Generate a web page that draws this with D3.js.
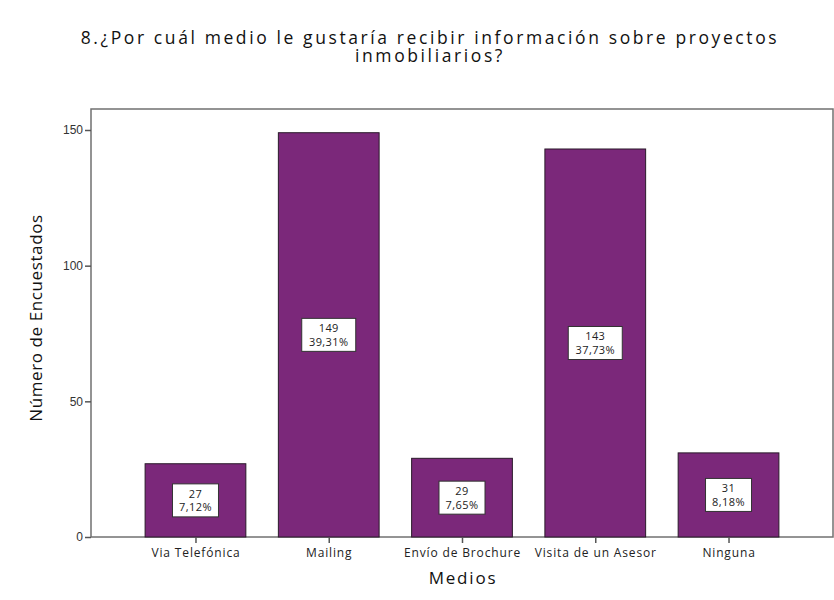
<!DOCTYPE html>
<html>
<head>
<meta charset="utf-8">
<script src="https://cdn.jsdelivr.net/npm/d3@7"></script>
<style>
  body { margin: 0; background: #fff; }
  svg { display: block; }
</style>
</head>
<body>
<svg id="chart" width="834" height="600"></svg>
<script>
// Survey answers: preferred channel for receiving real-estate project information
const categories = ["Via Telefónica", "Mailing", "Envío de Brochure", "Visita de un Asesor", "Ninguna"];
const counts = [27, 149, 29, 143, 31];
const percents = ["7,12%", "39,31%", "7,65%", "37,73%", "8,18%"];
const yTicks = [0, 50, 100, 150];
const titleLines = ["8.¿Por cuál medio le gustaría recibir información sobre proyectos", "inmobiliarios?"];

const svg = d3.select("#chart");
const frame = { left: 91, right: 833, top: 109, bottom: 537 };
const uiFont = "'Open Sans', 'Lato', sans-serif";

const x = d3.scalePoint()
  .domain(categories)
  .range([frame.left, frame.right])
  .padding(0.784);
const barW = x.step() * 0.756;

const y = d3.scaleLinear()
  .domain([0, 150])
  .range([frame.bottom, 130]);

// Plot frame
svg.append("rect")
  .attr("x", frame.left).attr("y", frame.top)
  .attr("width", frame.right - frame.left)
  .attr("height", frame.bottom - frame.top)
  .attr("fill", "#fff")
  .attr("stroke", "#707070")
  .attr("stroke-width", 1.5);

// Bars
svg.append("g").selectAll("rect")
  .data(counts)
  .join("rect")
  .attr("x", (d, i) => x(categories[i]) - barW / 2)
  .attr("y", d => y(d))
  .attr("width", barW)
  .attr("height", d => y(0) - y(d))
  .attr("fill", "#7b287a")
  .attr("stroke", "#2a1a2a")
  .attr("stroke-width", 1);

// Value labels (count + percentage) in white boxes at bar mid-height
const labels = svg.append("g").selectAll("g")
  .data(counts)
  .join("g")
  .attr("transform", (d, i) => `translate(${x(categories[i])},${(y(d) + y(0)) / 2})`);

labels.append("rect")
  .attr("x", (d, i) => percents[i].length > 5 ? -27 : -23)
  .attr("y", -16.5)
  .attr("width", (d, i) => percents[i].length > 5 ? 54 : 46)
  .attr("height", 33)
  .attr("fill", "#fff")
  .attr("stroke", "#333")
  .attr("stroke-width", 1);

labels.append("text")
  .attr("text-anchor", "middle")
  .attr("y", -2.5)
  .attr("font-family", uiFont)
  .attr("font-size", 11)
  .attr("letter-spacing", 0.4)
  .attr("fill", "#222")
  .text(d => d);

labels.append("text")
  .attr("text-anchor", "middle")
  .attr("y", 11)
  .attr("font-family", uiFont)
  .attr("font-size", 11)
  .attr("letter-spacing", 0.4)
  .attr("fill", "#222")
  .text((d, i) => percents[i]);

// Y axis
const yAxis = svg.append("g")
  .attr("transform", `translate(${frame.left},0)`)
  .call(d3.axisLeft(y).tickValues(yTicks).tickSize(6).tickPadding(2));
yAxis.select(".domain").remove();
yAxis.selectAll(".tick line").attr("stroke", "#555").attr("stroke-width", 1.5);
yAxis.selectAll(".tick text")
  .attr("font-family", "'Liberation Sans', Arial, sans-serif")
  .attr("font-size", 12)
  .attr("fill", "#333");

// X axis
const xAxis = svg.append("g")
  .attr("transform", `translate(0,${frame.bottom})`)
  .call(d3.axisBottom(x).tickSize(6).tickPadding(5));
xAxis.select(".domain").remove();
xAxis.selectAll(".tick line").attr("stroke", "#555").attr("stroke-width", 1.5);
xAxis.selectAll(".tick text")
  .attr("font-family", uiFont)
  .attr("font-size", 12)
  .attr("letter-spacing", 0.85)
  .attr("fill", "#222");

// Axis titles
svg.append("text")
  .attr("transform", `translate(42,318) rotate(-90)`)
  .attr("text-anchor", "middle")
  .attr("font-family", uiFont)
  .attr("font-size", 17)
  .attr("letter-spacing", 0.6)
  .attr("fill", "#111")
  .text("Número de Encuestados");

svg.append("text")
  .attr("x", 463).attr("y", 584)
  .attr("text-anchor", "middle")
  .attr("font-family", uiFont)
  .attr("font-size", 17)
  .attr("letter-spacing", 1.8)
  .attr("fill", "#111")
  .text("Medios");

// Two-line title as one text block
svg.append("text")
  .attr("text-anchor", "middle")
  .attr("font-family", uiFont)
  .attr("font-size", 17.5)
  .attr("letter-spacing", 2.6)
  .attr("fill", "#111")
  .selectAll("tspan")
  .data(titleLines)
  .join("tspan")
  .attr("x", 430)
  .attr("y", (d, i) => 44 + i * 18)
  .text(d => d);
</script>
</body>
</html>
